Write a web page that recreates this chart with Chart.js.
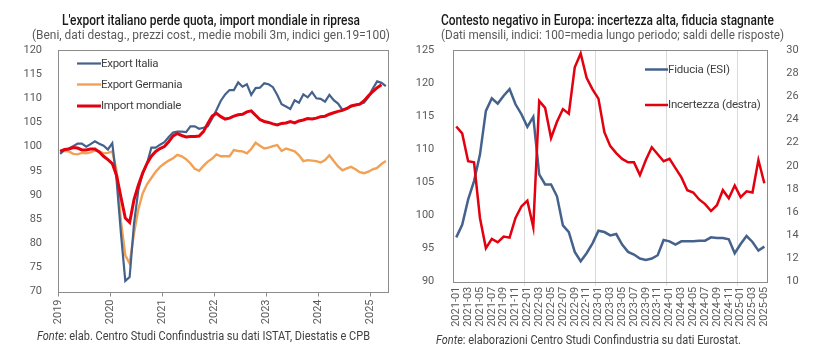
<!DOCTYPE html>
<html><head><meta charset="utf-8">
<script src="https://cdn.jsdelivr.net/npm/chart.js@4.4.1/dist/chart.umd.min.js"></script>
<style>
html,body{margin:0;padding:0;background:#fff;width:825px;height:356px;overflow:hidden;font-family:Roboto,sans-serif;}
.t{position:absolute;white-space:nowrap;transform-origin:0 50%;display:inline-block;}
canvas{position:absolute;top:0;}
</style></head><body>
<canvas id="c1" width="410" height="330" style="left:0"></canvas>
<canvas id="c2" width="415" height="330" style="left:410px"></canvas>
<div class="t" id="t1" style="left:62px;top:12px;font-size:14px;line-height:17px;font-weight:500;color:#1a1a1a">L'export italiano perde quota, import mondiale in ripresa</div>
<div class="t" id="s1" style="left:32px;top:27px;font-size:12.5px;line-height:16px;color:#595959">(Beni, dati destag., prezzi cost., medie mobili 3m, indici gen.19=100)</div>
<div class="t" id="t2" style="left:441px;top:12px;font-size:14px;line-height:17px;font-weight:500;color:#1a1a1a">Contesto negativo in Europa: incertezza alta, fiducia stagnante</div>
<div class="t" id="s2" style="left:441px;top:27px;font-size:12.5px;line-height:16px;color:#595959">(Dati mensili, indici: 100=media lungo periodo; saldi delle risposte)</div>
<div class="t" id="f1" style="left:37px;top:328px;font-size:12px;line-height:16px;color:#404040"><i>Fonte</i>: elab. Centro Studi Confindustria su dati ISTAT, Diestatis e CPB</div>
<div class="t" id="f2" style="left:436px;top:332px;font-size:12px;line-height:16px;color:#404040"><i>Fonte</i>: elaborazioni Centro Studi Confindustria su dati Eurostat.</div>
<script>
// ---------- DATA ----------
// Left chart: monthly categories Jan 2019 - Apr 2025
const leftYears = ['2019','2020','2021','2022','2023','2024','2025'];
const leftCategories = [];
leftYears.forEach(y => { for (let m = 1; m <= 12; m++) leftCategories.push(y + '-' + String(m).padStart(2,'0')); });
leftCategories.length = 76;

const exportItalia = [
  98.5, 99.3, 99.6, 100.1, 100.6, 100.6, 100.0, 100.5, 101.1, 100.6, 100.2, 99.4,
  100.7, 93.0, 82.0, 72.2, 73.0, 84.0, 91.0, 94.5, 96.5, 99.8, 99.8, 100.4,
  100.9, 102.0, 102.9, 103.1, 103.1, 103.0, 104.2, 104.2, 103.7, 103.9, 104.2, 105.8,
  107.6, 109.5, 110.8, 111.7, 111.7, 113.3, 112.4, 112.9, 110.7, 112.1, 112.2, 113.1,
  112.9, 112.3, 110.7, 108.8, 108.3, 107.8, 109.6, 109.1, 110.8, 110.2, 111.3, 110.0,
  109.9, 109.3, 110.7, 109.6, 108.9, 107.6, 107.8, 108.3, 108.6, 108.8, 109.1, 110.3,
  112.0, 113.5, 113.2, 112.5
];
const exportGermania = [
  99.2, 99.1, 99.0, 98.5, 98.4, 98.7, 98.6, 98.8, 99.2, 99.0, 98.6, 98.7,
  99.0, 95.0, 84.5, 77.5, 75.8, 82.0, 87.0, 90.3, 92.2, 93.5, 94.8, 95.8,
  96.5, 97.1, 97.6, 98.3, 98.0, 97.4, 96.5, 95.4, 95.0, 96.0, 96.9, 97.5,
  98.4, 98.0, 98.0, 98.0, 99.3, 99.1, 99.0, 98.6, 99.5, 100.8, 100.2, 99.6,
  99.8, 100.1, 100.3, 99.1, 99.6, 99.3, 99.0, 98.2, 97.0, 97.2, 97.1, 97.0,
  96.7, 97.2, 98.2, 97.0, 95.9, 95.1, 95.5, 95.8, 95.3, 94.7, 94.5, 94.8,
  95.3, 95.6, 96.4, 97.0
];
const importMondiale = [
  99.0, 99.4, 99.5, 99.8, 99.7, 99.3, 99.3, 99.5, 99.5, 98.9, 98.0, 97.3,
  96.5, 94.0, 89.5, 85.2, 84.3, 89.0, 92.0, 94.5, 96.5, 98.0, 99.0, 99.6,
  100.0, 101.0, 102.2, 102.7, 102.3, 102.0, 102.1, 102.1, 102.2, 103.1, 104.8, 106.3,
  106.9, 106.2, 105.7, 105.9, 106.3, 106.6, 106.7, 107.2, 107.4, 106.5, 105.6, 105.2,
  105.0, 104.7, 104.5, 104.8, 104.9, 105.2, 104.9, 105.3, 105.5, 105.8, 105.7, 105.9,
  106.2, 106.3, 106.7, 107.0, 107.3, 107.5, 107.9, 108.4, 108.6, 108.8, 109.5, 110.5,
  111.4, 112.2, 112.8
];
const leftYTicks = [70, 120, 5];

// Right chart: monthly categories Jan 2021 - May 2025
const rightYears = ['2021','2022','2023','2024','2025'];
const rightCategories = [];
rightYears.forEach(y => { for (let m = 1; m <= 12; m++) rightCategories.push(y + '-' + String(m).padStart(2,'0')); });
rightCategories.length = 53;

const fiduciaESI = [
  96.7, 98.6, 102.4, 105.2, 109.2, 115.8, 117.7, 116.9, 118.1, 119.1, 116.8, 115.3,
  113.4, 114.9, 106.2, 104.7, 104.7, 102.9, 98.5, 97.5, 94.5, 93.1, 94.3, 95.8,
  97.7, 97.5, 97.0, 97.2, 95.6, 94.5, 94.1, 93.5, 93.3, 93.5, 94.0, 96.3,
  96.1, 95.6, 96.1, 96.1, 96.1, 96.2, 96.2, 96.7, 96.6, 96.6, 96.4, 94.3,
  95.7, 96.9, 96.0, 94.7, 95.3
];
const incertezza = [
  23.4, 22.8, 20.4, 20.3, 15.5, 12.9, 13.7, 13.4, 13.9, 13.8, 15.5, 16.5,
  17.0, 14.7, 25.6, 25.0, 22.4, 23.8, 24.9, 24.5, 28.5, 29.7, 27.6, 26.6,
  25.8, 22.9, 21.7, 21.1, 20.6, 20.3, 20.3, 19.2, 20.5, 21.6, 21.0, 20.4,
  20.6, 19.8, 19.0, 17.9, 17.7, 17.1, 16.7, 16.1, 16.6, 17.9, 17.2, 18.3,
  17.3, 17.8, 17.7, 20.5, 18.5
];
const rightYTicks = [90, 125, 5];
const rightY2Ticks = [10, 30, 2];

// ---------- STYLE ----------
const BLUE = '#44628c', ORANGE = '#f2a154', RED = '#e3000f';
const TICK = '#595959', BOX = '#8c8c8c';
Chart.defaults.font.family = 'Roboto';
Chart.defaults.font.size = 11;
Chart.defaults.color = TICK;

const boxPlugin = {
  id: 'box',
  beforeDatasetsDraw(chart) {
    const a = chart.chartArea, ctx = chart.ctx;
    ctx.save(); ctx.strokeStyle = BOX; ctx.lineWidth = 1;
    ctx.strokeRect(Math.round(a.left) + 0.5, Math.round(a.top) + 0.5, Math.round(a.right - a.left), Math.round(a.bottom - a.top));
    ctx.restore();
  }
};
const inLegend = {
  id: 'inLegend',
  afterDatasetsDraw(chart, args, opts) {
    if (!opts || !opts.items) return;
    const ctx = chart.ctx; ctx.save();
    opts.items.forEach((it, i) => {
      const ds = chart.data.datasets[i];
      ctx.strokeStyle = ds.borderColor; ctx.lineWidth = ds.borderWidth;
      ctx.beginPath(); ctx.moveTo(it.x, it.y); ctx.lineTo(it.x + opts.lineLen, it.y); ctx.stroke();
      ctx.fillStyle = '#404040'; ctx.font = opts.font; ctx.textBaseline = 'middle'; ctx.textAlign = 'left';
      if ('letterSpacing' in ctx) ctx.letterSpacing = opts.spacing || '0px';
      ctx.fillText(ds.label, it.x + opts.lineLen, it.y + 0.5);
    });
    ctx.restore();
  }
};

const line = (label, data, color, w, order, axis) => ({
  label, data, borderColor: color, backgroundColor: color, borderWidth: w,
  pointRadius: 0, tension: 0, fill: false, order, yAxisID: axis || 'y'
});

new Chart(document.getElementById('c1'), {
  type: 'line',
  data: {
    labels: leftCategories,
    datasets: [
      line('Export Italia', exportItalia, BLUE, 2.2, 1),
      line('Export Germania', exportGermania, ORANGE, 2.4, 2),
      line('Import mondiale', importMondiale, RED, 3, 0)
    ]
  },
  plugins: [boxPlugin, inLegend],
  options: {
    responsive: false, animation: false,
    layout: { padding: { left: 0, right: 22, top: 50, bottom: 0 } },
    plugins: {
      legend: { display: false }, tooltip: { enabled: false },
      inLegend: { lineLen: 24, font: '11.5px Roboto', spacing: '-0.3px',
        items: [{ x: 77, y: 63.5 }, { x: 77, y: 84.5 }, { x: 77, y: 106 }] }
    },
    scales: {
      x: {
        type: 'category', offset: true,
        border: { display: false },
        grid: { offset: true, drawOnChartArea: false, drawTicks: true, tickLength: 5,
          color: c => (c.index !== undefined && c.index % 12 === 0) ? BOX : 'rgba(0,0,0,0)' },
        ticks: { autoSkip: false, minRotation: 90, maxRotation: 90, padding: 3, labelOffset: -2.17,
          callback: (v, i) => i % 12 === 0 ? leftCategories[i].slice(0, 4) : '' },
        afterFit: s => { s.height = 38.5; }
      },
      y: {
        min: leftYTicks[0], max: leftYTicks[1],
        border: { display: false }, grid: { display: false },
        ticks: { stepSize: leftYTicks[2], padding: 8 },
        afterFit: s => { s.width = 58; }
      }
    }
  }
});

new Chart(document.getElementById('c2'), {
  type: 'line',
  data: {
    labels: rightCategories,
    datasets: [
      line('Fiducia (ESI)', fiduciaESI, BLUE, 2.5, 1, 'y'),
      line('Incertezza (destra)', incertezza, RED, 2.5, 0, 'y1')
    ]
  },
  plugins: [boxPlugin, inLegend],
  options: {
    responsive: false, animation: false,
    layout: { padding: { left: 0, right: 0, top: 50, bottom: 0 } },
    plugins: {
      legend: { display: false }, tooltip: { enabled: false },
      inLegend: { lineLen: 23, font: '11.5px Roboto', spacing: '-0.2px',
        items: [{ x: 235, y: 69.5 }, { x: 235, y: 105 }] }
    },
    scales: {
      x: {
        type: 'category', offset: true,
        border: { display: false },
        grid: { offset: true, drawOnChartArea: true, drawTicks: true, tickLength: 4,
          color: c => (c.index !== undefined && c.index > 0 && c.index % 12 === 0) ? '#d9d9d9' : 'rgba(0,0,0,0)' },
        ticks: { autoSkip: false, minRotation: 90, maxRotation: 90, padding: 1,
          callback: (v, i) => i % 2 === 0 ? rightCategories[i] : '' },
        afterFit: s => { s.height = 48.3; }
      },
      y: {
        position: 'left', min: rightYTicks[0], max: rightYTicks[1],
        border: { display: false }, grid: { display: false },
        ticks: { stepSize: rightYTicks[2], padding: 11 },
        afterFit: s => { s.width = 43.3; }
      },
      y1: {
        position: 'right', min: rightY2Ticks[0], max: rightY2Ticks[1],
        border: { display: false }, grid: { display: false },
        ticks: { stepSize: rightY2Ticks[2], padding: 11 },
        afterFit: s => { s.width = 57.7; }
      }
    }
  }
});

// fit HTML text runs to the reference widths
const targets = { t1: 298, s1: 358, t2: 333, s2: 343, f1: 333, f2: 305 };
Object.keys(targets).forEach(id => {
  const el = document.getElementById(id);
  const w = el.getBoundingClientRect().width;
  el.style.transform = 'scaleX(' + (targets[id] / w).toFixed(4) + ')';
});
</script>
</body></html>
